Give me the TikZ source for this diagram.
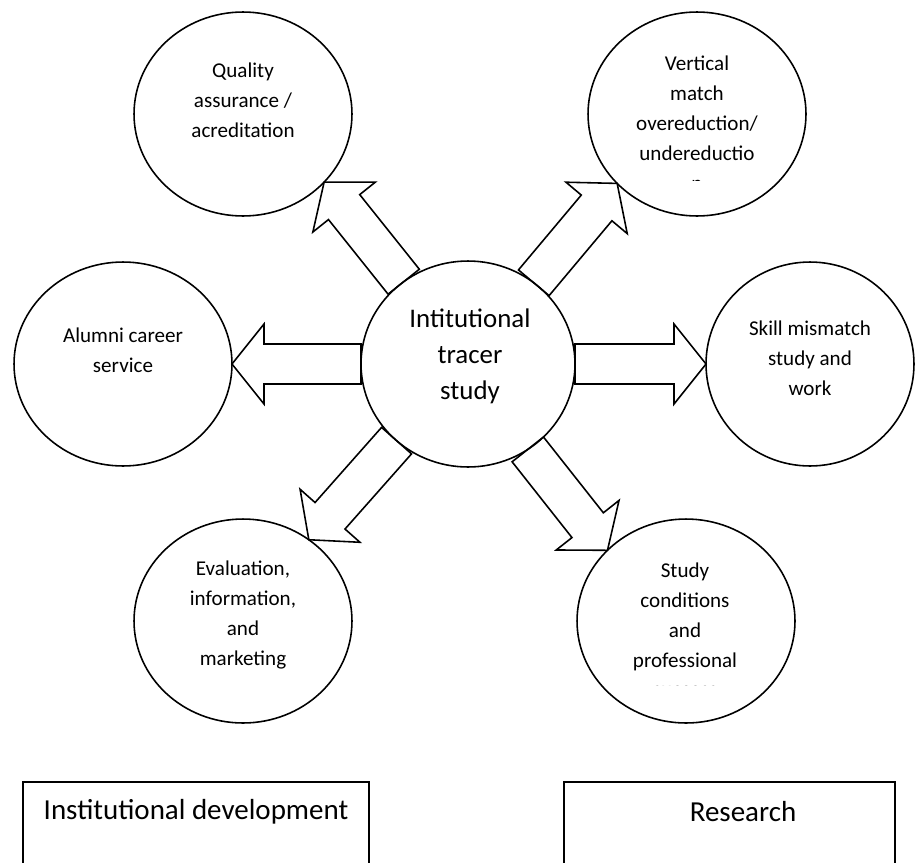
\documentclass[tikz,border=0pt]{standalone}
\usepackage{fontspec}
\setmainfont{Carlito}
\usepackage{tikz}
\usetikzlibrary{calc,shapes.geometric}
\tikzset{
  bubble/.style={draw=black, ellipse, line width=0.9pt, inner sep=0pt, outer sep=0pt,
    minimum width=4.36cm, minimum height=4.08cm},
  blk/.style={draw=black, line width=0.9pt, line join=miter},
  panel/.style={draw=black, line width=0.9pt},
  lab/.style={font=\fontsize{12}{17}\selectfont, align=center, inner sep=0pt},
  big/.style={font=\fontsize{15.3}{20.4}\selectfont, align=center, inner sep=0pt},
  boxlab/.style={font=\fontsize{16.5}{20}\selectfont, inner sep=0pt}
}
% block arrow from base (#1) to tip (#2)
\newcommand{\fatarrow}[2]{%
  \coordinate (hd) at ($(#2)!\headl!(#1)$);
  \draw[blk] ($(#1)!\shaftw!90:(#2)$) -- ($(hd)!\shaftw!90:(#2)$)
    -- ($(hd)!\headw!90:(#2)$) -- (#2) -- ($(hd)!\headw!-90:(#2)$)
    -- ($(hd)!\shaftw!-90:(#2)$) -- ($(#1)!\shaftw!-90:(#2)$) -- cycle;
}
\begin{document}
\begin{tikzpicture}[x=0.02cm, y=-0.02cm]
  \useasboundingbox (0,0) rectangle (915,862);
  \def\shaftw{0.4cm}
  \def\headw{0.8cm}
  \def\headl{0.64cm}

  % circles
  \node[bubble, minimum width=4.28cm, minimum height=4.12cm] (ctr) at (468,364) {};
  \node[bubble] (qa) at (243,114) {};
  \node[bubble] (vm) at (697,114) {};
  \node[bubble] (acs) at (123,364) {};
  \node[bubble, minimum width=4.16cm] (smw) at (810,364) {};
  \node[bubble] (eim) at (243,621) {};
  \node[bubble] (scp) at (686,621) {};

  % texts
  \node[big] (ctrt) at (470,356) {Intitutional\\tracer\\study};
  \node[lab] (qat) at (243,100) {Quality\\assurance /\\acreditation};
  \begin{scope}
    \clip (580,0) rectangle (815,180);
    \node[lab] (vmt) at (697,123) {Vertical\\match\\overeduction/\\undereductio\\n};
  \end{scope}
  \node[lab] (acst) at (123,350) {Alumni career\\service};
  \node[lab] (smwt) at (810,358) {Skill mismatch\\study and\\work};
  \node[lab] (eimt) at (243,615) {Evaluation,\\information,\\and\\marketing};
  \begin{scope}
    \clip (570,500) rectangle (800,685.5);
    \node[lab] (scpt) at (685,630) {Study\\conditions\\and\\professional\\success};
  \end{scope}

  % arrows
  \fatarrow{ctr.128}{qa.-40}
  \fatarrow{ctr.51}{vm.-139}
  \fatarrow{ctr.180}{acs.0}
  \fatarrow{ctr.0}{smw.180}
  \fatarrow{ctr.-133}{eim.51}
  \fatarrow{ctr.-55}{scp.138}

  % boxes
  \draw[panel] (23,782) rectangle (369,920);
  \draw[panel] (564,782) rectangle (895,920);
  \node[boxlab] (idev) at (196,812) {Institutional development};
  \node[boxlab] (res) at (743,812) {Research};
\end{tikzpicture}
\end{document}
